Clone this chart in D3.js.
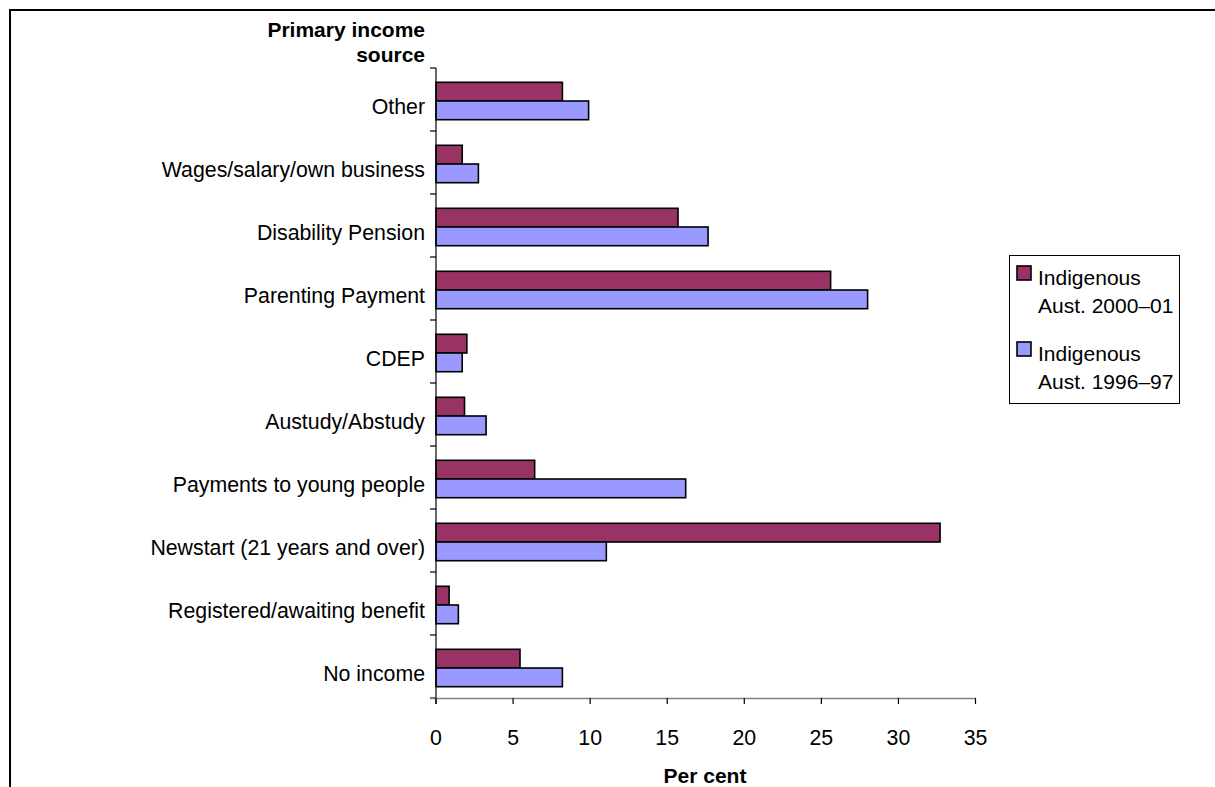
<!DOCTYPE html>
<html><head><meta charset="utf-8">
<script src="https://cdn.jsdelivr.net/npm/d3@7"></script>
<style>body{margin:0;background:#fff}svg{display:block}text{font-family:"Liberation Sans",Arial,sans-serif}</style>
</head><body>
<svg id="c" width="1215" height="787"></svg>
<script>
const categories = ["Other","Wages/salary/own business","Disability Pension","Parenting Payment","CDEP","Austudy/Abstudy","Payments to young people","Newstart (21 years and over)","Registered/awaiting benefit","No income"];
const series2000 = [8.2,1.7,15.7,25.6,2.0,1.85,6.4,32.7,0.85,5.45];
const series1996 = [9.9,2.75,17.65,28.0,1.7,3.25,16.2,11.05,1.45,8.2];
const seriesNames = ["Indigenous\nAust. 2000–01","Indigenous\nAust. 1996–97"];
const seriesColors = ["#993366","#9999FF"];
const xTicks = [0,5,10,15,20,25,30,35];

const svg = d3.select("#c");
svg.append("rect").attr("x",10).attr("y",10).attr("width",1240).attr("height",820)
  .attr("fill","none").attr("stroke","#000").attr("stroke-width",2);

const x = d3.scaleLinear().domain([0,35]).range([436,975.5]);
const y = d3.scaleBand().domain(categories).range([68,698]).paddingInner(0).paddingOuter(0);
const bandH = y.bandwidth();
const barH = 18.7;
const data = [series2000, series1996];

// bars
data.forEach((s,si)=>{
  svg.append("g").selectAll("rect").data(categories).join("rect")
    .attr("x",x(0))
    .attr("y",c=>y(c)+bandH/2+1.5-barH+si*barH)
    .attr("width",(c,i)=>x(s[i])-x(0))
    .attr("height",barH)
    .attr("fill",seriesColors[si]).attr("stroke","#000").attr("stroke-width",1.6);
});

// y axis
const gy = svg.append("g");
gy.append("line").attr("x1",436).attr("x2",436).attr("y1",68).attr("y2",704).attr("stroke","#000").attr("stroke-width",1.2);
const yTickPos = categories.map(c=>y(c)).concat([698]);
gy.selectAll("line.t").data(yTickPos).join("line").attr("class","t")
  .attr("x1",430).attr("x2",436).attr("y1",d=>d).attr("y2",d=>d).attr("stroke","#000").attr("stroke-width",1.2);
gy.selectAll("text").data(categories).join("text")
  .attr("x",425).attr("y",c=>y(c)+bandH/2+7).attr("text-anchor","end").attr("dominant-baseline","central")
  .attr("font-size",21.3).text(c=>c);

// x axis
const gx = svg.append("g");
gx.append("line").attr("x1",430).attr("x2",975.5).attr("y1",698.5).attr("y2",698.5).attr("stroke","#808080").attr("stroke-width",1.5);
gx.selectAll("line.t").data(xTicks).join("line").attr("class","t")
  .attr("x1",d=>x(d)).attr("x2",d=>x(d)).attr("y1",698).attr("y2",704).attr("stroke","#000").attr("stroke-width",1.2);
gx.selectAll("text").data(xTicks).join("text")
  .attr("x",d=>x(d)).attr("y",745).attr("text-anchor","middle").attr("font-size",21.3).text(d=>d);

// axis titles
svg.append("text").attr("x",705).attr("y",783).attr("text-anchor","middle").attr("font-size",21).attr("font-weight","bold").text("Per cent");
svg.append("text").attr("x",425).attr("y",37).attr("text-anchor","end").attr("font-size",21).attr("font-weight","bold").text("Primary income");
svg.append("text").attr("x",425).attr("y",62).attr("text-anchor","end").attr("font-size",21).attr("font-weight","bold").text("source");

// legend
const lg = svg.append("g");
lg.append("rect").attr("x",1009.5).attr("y",255.5).attr("width",170).attr("height",148)
  .attr("fill","#fff").attr("stroke","#000").attr("stroke-width",1);
seriesNames.forEach((n,i)=>{
  const oy = 266 + i*76;
  lg.append("rect").attr("x",1017).attr("y",oy).attr("width",14).attr("height",14)
    .attr("fill",seriesColors[i]).attr("stroke","#000").attr("stroke-width",1.6);
  n.split("\n").forEach((ln,j)=>{
    lg.append("text").attr("x",1038).attr("y",oy+19+j*28).attr("font-size",21).text(ln);
  });
});
</script>
</body></html>
